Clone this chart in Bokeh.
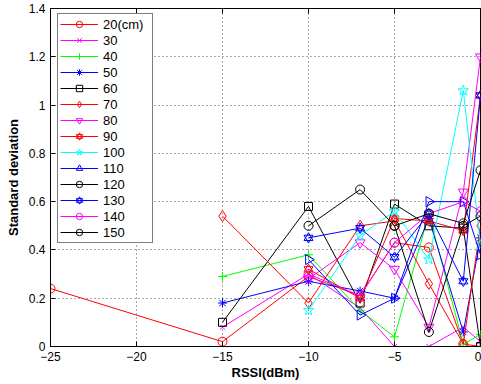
import math
from bokeh.plotting import figure
from bokeh.models import Legend, LegendItem, LinearAxis, FixedTicker, Range1d, ColumnDataSource
from bokeh.embed import file_html
from bokeh.resources import INLINE

# ---------------- data ----------------
series_labels = ["20(cm)", "30", "40", "50", "60", "70", "80", "90",
                 "100", "110", "120", "130", "140", "150"]

x_20 = [-25, -15, -10, -7, -5, -3, -1, 0]
x_long = [-15, -10, -7, -5, -3, -1, 0]
x_short = [-10, -7, -5, -3, -1, 0]
x_150 = [-5, -3, -1, 0]

y_20 = [0.24, 0.02, 0.29, 0.21, 0.43, 0.41, 0.01, 0.0]
y_30 = [0.08, 0.30, 0.16, 0.0, 0.0, 0.08, 0.02]
y_40 = [0.29, 0.38, 0.15, 0.04, 0.55, 0.01, 0.05]
y_50 = [0.18, 0.27, 0.23, 0.20, 0.53, 0.06, 0.45]
y_60 = [0.10, 0.58, 0.18, 0.59, 0.50, 0.49, 0.0]
y_70 = [0.54, 0.18, 0.50, 0.52, 0.26, 0.01, 0.50]
y_80 = [0.28, 0.43, 0.32, 0.08, 0.64, 1.20]
y_90 = [0.32, 0.20, 0.53, 0.52, 0.48, 1.04]
y_100 = [0.15, 0.46, 0.56, 0.36, 1.06, 0.42]
y_110 = [0.36, 0.13, 0.20, 0.60, 0.60, 0.38]
y_120 = [0.50, 0.65, 0.50, 0.06, 0.50, 0.54]
y_130 = [0.45, 0.49, 0.37, 0.55, 0.27, 1.04]
y_140 = [0.30, 0.21, 0.43, 0.55, 0.60, 0.56]
y_150 = [0.50, 0.55, 0.51, 0.73]

x_ticks = [-25, -20, -15, -10, -5, 0]
x_tick_labels = ["\u221225", "\u221220", "\u221215", "\u221210", "\u22125", "0"]
y_ticks = [0, 0.2, 0.4, 0.6, 0.8, 1.0, 1.2, 1.4]
y_tick_labels = ["0", "0.2", "0.4", "0.6", "0.8", "1", "1.2", "1.4"]

series_x = [x_20, x_long, x_long, x_long, x_long, x_long, x_short, x_short,
            x_short, x_short, x_short, x_short, x_short, x_150]
series_y = [y_20, y_30, y_40, y_50, y_60, y_70, y_80, y_90,
            y_100, y_110, y_120, y_130, y_140, y_150]

# style per series (MATLAB colour letters / marker symbols)
R, M, G, B, K, C = "#FF0000", "#FF00FF", "#00FF00", "#0000FF", "#000000", "#00FFFF"
series_colors = [R, M, G, B, K, R, M, R, C, B, K, B, M, K]
series_markers = ["o", "x", "+", "*", "s", "d", "v", "h", "p", ">", "o", "h", "o", "o"]

FONT = "Liberation Sans"

p = figure(width=481, height=384, output_backend="svg", toolbar_location=None,
           x_range=Range1d(-25, 0), y_range=Range1d(0, 1.4),
           min_border_left=50, min_border_right=1, min_border_top=8,
           min_border_bottom=38)
p.background_fill_color = "white"
p.border_fill_color = "white"
p.outline_line_color = "black"
p.outline_line_width = 1

# axes
p.xaxis.ticker = FixedTicker(ticks=x_ticks)
p.xaxis.major_label_overrides = {t: l for t, l in zip(x_ticks, x_tick_labels)}
p.yaxis.ticker = FixedTicker(ticks=y_ticks)
p.yaxis.major_label_overrides = {t: l for t, l in zip(y_ticks, y_tick_labels)}
for ax in (p.xaxis[0], p.yaxis[0]):
    ax.major_tick_in = 5
    ax.major_tick_out = 0
    ax.minor_tick_line_color = None
    ax.axis_line_color = "black"
    ax.major_tick_line_color = "black"
    ax.major_label_text_font = FONT
    ax.major_label_text_font_size = "12px"
    ax.major_label_text_color = "black"
    ax.axis_label_text_font = FONT
    ax.axis_label_text_font_size = "13px"
    ax.axis_label_text_font_style = "bold"
    ax.axis_label_text_color = "black"
p.xaxis.axis_label = "RSSI(dBm)"
p.yaxis.axis_label = "Standard deviation"
p.xaxis.major_label_standoff = 5
p.xaxis.axis_label_standoff = 1
p.yaxis.major_label_standoff = 5
p.yaxis.axis_label_standoff = 5

top = LinearAxis(ticker=FixedTicker(ticks=x_ticks), major_tick_in=5, major_tick_out=0,
                 minor_tick_line_color=None,
                 major_label_overrides={t: "" for t in x_ticks},
                 major_label_standoff=0, axis_line_color="black")
p.add_layout(top, "above")

p.xgrid.ticker = FixedTicker(ticks=x_ticks)
p.ygrid.ticker = FixedTicker(ticks=y_ticks)
for g in (p.xgrid[0], p.ygrid[0]):
    g.grid_line_color = "#555555"
    g.grid_line_dash = "1 3"
    g.grid_line_width = 1

items = []
for lab, xs, ys, col, mk in zip(series_labels, series_x, series_y,
                                series_colors, series_markers):
    src = ColumnDataSource(dict(x=xs, y=ys, a=[-math.pi / 2] * len(xs)))
    rs = [p.line("x", "y", source=src, line_color=col, line_width=1)]
    common = dict(source=src, line_color=col, fill_color=None, line_width=1)
    if mk == "o":
        rs.append(p.scatter("x", "y", marker="circle", size=9, **common))
    elif mk == "x":
        rs.append(p.scatter("x", "y", marker="x", size=7, **common))
    elif mk == "+":
        rs.append(p.scatter("x", "y", marker="cross", size=9, **common))
    elif mk == "*":
        rs.append(p.scatter("x", "y", marker="asterisk", size=9, **common))
    elif mk == "s":
        rs.append(p.scatter("x", "y", marker="square", size=8, **common))
    elif mk == "d":
        rs.append(p.scatter("x", "y", marker="diamond", size=11, **common))
    elif mk == "v":
        rs.append(p.scatter("x", "y", marker="inverted_triangle", size=10, **common))
    elif mk == ">":
        rs.append(p.scatter("x", "y", marker="triangle", size=10, angle="a", **common))
    elif mk == "p":
        rs.append(p.scatter("x", "y", marker="star", size=11, **common))
    elif mk == "h":
        rs.append(p.scatter("x", "y", marker="triangle", size=9, **common))
        rs.append(p.scatter("x", "y", marker="inverted_triangle", size=9, **common))
    items.append(LegendItem(label=lab, renderers=rs, index=0))

legend = Legend(items=items, location=(7, 103),
                border_line_color="black", border_line_width=1,
                background_fill_color="white", background_fill_alpha=1.0,
                label_text_font=FONT, label_text_font_size="13px",
                label_text_color="black", label_text_line_height=1.0,
                glyph_width=38, glyph_height=16, label_height=16,
                label_width=47, spacing=0, padding=2, margin=0,
                label_standoff=5)
p.add_layout(legend)

open("out.html", "w").write(file_html(p, INLINE))
